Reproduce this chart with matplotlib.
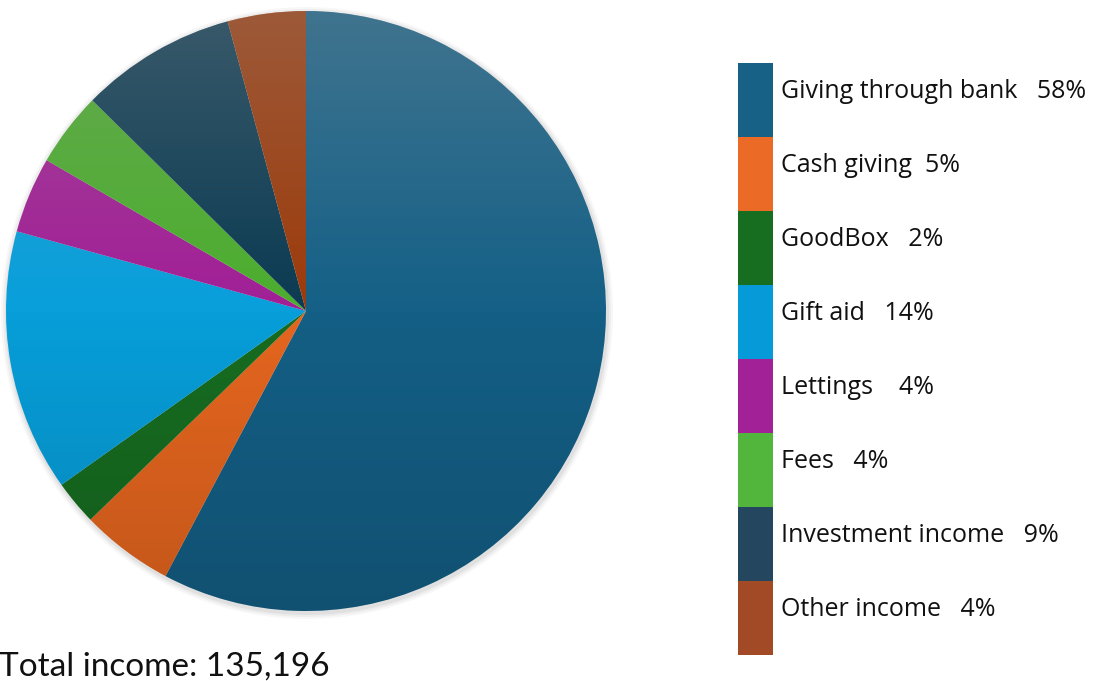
import numpy as np
import matplotlib
matplotlib.use("Agg")
import matplotlib.pyplot as plt
from matplotlib.patches import Circle, Rectangle

# slice shares (percent of total income)
categories = ["Giving through bank", "Cash giving", "GoodBox", "Gift aid",
              "Lettings", "Fees", "Investment income", "Other income"]
shares = [57.7, 5.0, 2.4, 14.1, 4.1, 4.0, 8.4, 4.2]
legend_pct = ["58%", "5%", "2%", "14%", "4%", "4%", "9%", "4%"]
legend_gap = ["   ", "  ", "   ", "   ", "    ", "   ", "   ", "   "]
colors = ["#146087", "#E8671F", "#176E21", "#07A0DC",
          "#A21E96", "#4BAE2D", "#0A3A52", "#9C3A0A"]
legend_colors = ["#176086", "#EB6A25", "#176E21", "#069BD8",
                 "#A32196", "#52B63D", "#24465E", "#A24A25"]
total_text = "Total income: 135,196"

W, H = 1098, 681
fig = plt.figure(figsize=(W / 100, H / 100), dpi=100)
ax = fig.add_axes([0, 0, 1, 1])

cx, cy, r = 306, H - 311, 300

# soft shadow
for k, a in enumerate([0.05, 0.04, 0.03]):
    ax.add_patch(Circle((cx + 1, cy - 2), r + 2 + 2 * k, color="black",
                        alpha=a, lw=0, zorder=0))

ax.pie(shares, colors=colors, startangle=90, counterclock=False,
       center=(cx, cy), radius=r, frame=True, wedgeprops=dict(linewidth=0))

# vertical light-to-dark shading on the pie
n = 256
t = np.linspace(0, 1, n)[:, None]
grad = np.zeros((n, 1, 4))
top_a = np.clip(0.32 * (1 - t / 0.5), 0, None)
bot_a = np.clip(0.16 * (t - 0.45) / 0.55, 0, None)
grad[..., :3] = np.where(top_a[..., None] > 0, 0.62, 0.0)
grad[..., 3] = top_a + bot_a
img = ax.imshow(grad, extent=(cx - r, cx + r, cy - r, cy + r), origin="upper",
                aspect="auto", zorder=3, interpolation="bilinear")
img.set_clip_path(Circle((cx, cy), r, transform=ax.transData))

ax.set_xlim(0, W)
ax.set_ylim(0, H)
ax.set_aspect("equal")
ax.axis("off")

# legend as stacked colour blocks
box_x, box_w = 738, 35
box_top, box_bottom = H - 63, H - 655
box_h = (box_top - box_bottom) / len(categories)
for i, (name, pct, gap, col) in enumerate(zip(categories, legend_pct,
                                              legend_gap, legend_colors)):
    y0 = box_top - (i + 1) * box_h
    ax.add_patch(Rectangle((box_x, y0), box_w, box_h, color=col, lw=0))
    ax.text(box_x + box_w + 8, y0 + box_h / 2 + 8, name + gap + pct,
            fontsize=18, family="Open Sans", color="#111111",
            ha="left", va="center")

ax.text(-1, H - 676, total_text, fontsize=24, family="Lato",
        color="#111111", ha="left", va="baseline")

fig.savefig("out.png", dpi=100)
